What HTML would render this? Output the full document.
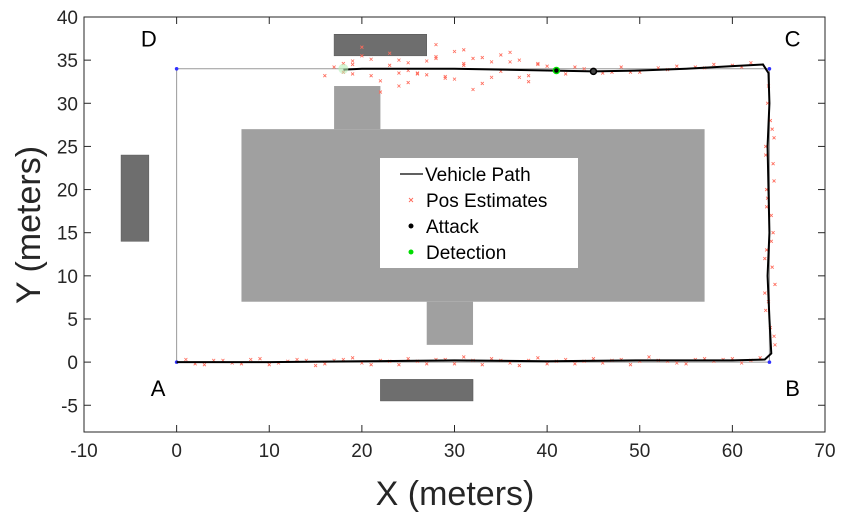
<!DOCTYPE html>
<html><head><meta charset="utf-8"><style>
body{margin:0;background:#fff;font-family:"Liberation Sans",sans-serif}
svg{display:block}
</style></head><body>
<svg id="c" width="848" height="519" xmlns="http://www.w3.org/2000/svg"></svg>
<script>
const xTicks=[-10,0,10,20,30,40,50,60,70];
const yTicks=[-5,0,5,10,15,20,25,30,35,40];
const lightRects=[[7,7,57,27],[17,27,22,32],[27,2,32,7]];
const darkRects=[[17,35.5,27,38],[-6,14,-3,24],[22,-4.5,32,-2]];
const refPath=[[0,0],[64,0],[64,34],[0,34],[0,0]];
const pathX=[0,10,20,30,40,50,60,63.5,64.2,64,63.8,64,63.9,63.8,64,63.9,63.3,60,55,50,45,40,30,20,18];
const pathY=[0,0,0.1,0.2,0.1,0.2,0.2,0.3,1,5,10,15,20,25,30,33.5,34.5,34.3,34,33.8,33.7,33.8,34,34,33.9];
const estX=[1,3,5,7,9,11,13,15,17,19,21,23,25,27,29,31,33,35,37,39,41,43,45,47,49,51,53,55,57,59,61,63,64.5,63.6,64.6,63.5,64.4,63.7,64.5,63.6,64.3,63.8,64.6,63.5,64.2,63.7,64.5,62,60,58,56,54,52,50,48,46,44,42,40,38,36,34,32,30,28,26,24,22,20,18,19,21,23,25,27,29,31,33,35,37,39,17,20,24,28,32,36,22,26,30,34,38,16,19,25,31,37,43,47,
2,4,6,8,10,12,14,16,18,20,22,24,26,28,30,32,34,36,38,40,42,44,46,48,50,52,54,56,58,60,62,64.1,63.9,64.3,63.7,64.2,63.8,64.4,63.6,64.1,63.9,61,57,53,49,45,41,39,35,31,27,23,19,21,25,29,33,18,24,28];
const estY=[0.3,-0.3,0.2,-0.2,0.4,-0.1,0.3,-0.4,0.2,0.5,-0.3,0.1,0.4,-0.2,0.3,0.6,-0.3,0.2,-0.4,0.5,0.1,-0.2,0.4,0.2,-0.3,0.6,0.1,-0.2,0.4,0.3,-0.1,0.5,3,6,9,12,15,18,21,24,27,30,2,8,14,20,26,34.7,34.4,34.5,34.2,34.3,34.1,33.6,34.2,33.5,34,33.4,34.3,33.2,34.8,33,35.2,32.8,35.4,33.4,35,32.6,35.5,33.6,34.5,33.2,35.8,32.4,34.9,33.1,36.2,32.3,35.6,33,34.6,34.2,36.5,32,36.8,31.6,35.9,31.3,33.5,36,34.8,32.5,33.2,34.9,33.8,34.4,35,34.2,33.6,
-0.2,0.2,-0.1,0.3,-0.3,0.1,0.2,-0.2,0.3,-0.1,0.2,-0.3,0.1,0.3,-0.2,0.2,0.4,-0.1,0.2,-0.2,0.3,0.1,-0.1,0.3,0.1,0.2,-0.1,0.3,0.1,0.4,0.2,4,7,11,13,17,19,23,25,28,32,34.2,34.1,33.9,33.6,33.9,33.6,34.5,33.7,34.6,33.3,34.4,33.4,35.1,34.7,32.9,35.3,34.6,33.5,35.2];
const attack=[45,33.7], detect=[41,33.8], detect0=[18,34];
const corners=[["D",-3,37.5],["C",66.5,37.5],["A",-2,-3],["B",66.5,-3]];

const L=84,R=825,T=17,B=432,xmin=-10,xmax=70,ymin=-8.1,ymax=40;
const X=v=>L+(v-xmin)/(xmax-xmin)*(R-L);
const Y=v=>B-(v-ymin)/(ymax-ymin)*(B-T);
const svg=document.getElementById('c');
const NS='http://www.w3.org/2000/svg';
function mk(t,a,p){const e=document.createElementNS(NS,t);for(const k in a)e.setAttribute(k,a[k]);(p||svg).appendChild(e);return e;}

lightRects.forEach(r=>{const e=mk('rect',{x:X(r[0]),y:Y(r[3]),width:X(r[2])-X(r[0]),height:Y(r[1])-Y(r[3]),fill:'#a0a0a0'});

});
darkRects.forEach(r=>{const e=mk('rect',{x:X(r[0]),y:Y(r[3]),width:X(r[2])-X(r[0]),height:Y(r[1])-Y(r[3]),fill:'#6e6e6e',stroke:'#555','stroke-width':0.5});

});
const rp=mk('polyline',{points:refPath.map(p=>X(p[0])+','+Y(p[1])).join(' '),fill:'none',stroke:'#999','stroke-width':1});


refPath.slice(0,4).forEach(p=>{const e=mk('circle',{cx:X(p[0]),cy:Y(p[1]),r:1.8,fill:'#3030ff'});

});
const eg=mk('g',{});


estX.forEach((x,i)=>{const cx=X(x),cy=Y(estY[i]);
const e=mk('path',{d:`M${cx-1.5},${cy-1.5}L${cx+1.5},${cy+1.5}M${cx-1.5},${cy+1.5}L${cx+1.5},${cy-1.5}`,stroke:'#ff6a5a','stroke-width':0.8},eg);

});
const vp=mk('polyline',{points:pathX.map((x,i)=>X(x)+','+Y(pathY[i])).join(' '),fill:'none',stroke:'#000','stroke-width':2});


let e=mk('circle',{cx:X(detect0[0]),cy:Y(detect0[1]),r:5,fill:'#b8f0b8',opacity:0.6});


e=mk('circle',{cx:X(detect[0]),cy:Y(detect[1]),r:3,fill:'#000',stroke:'#0d0','stroke-width':1.5});


e=mk('circle',{cx:X(attack[0]),cy:Y(attack[1]),r:3,fill:'#444',stroke:'#000','stroke-width':1.5});


corners.forEach(c=>{const t=mk('text',{x:X(c[1]),y:Y(c[2])+8,'font-size':22,'text-anchor':'middle',fill:'#000'});t.textContent=c[0];

});
e=mk('rect',{x:L,y:T,width:R-L,height:B-T,fill:'none',stroke:'#262626','stroke-width':1});


xTicks.forEach(v=>{mk('line',{x1:X(v),x2:X(v),y1:B,y2:B-7,stroke:'#262626'});mk('line',{x1:X(v),x2:X(v),y1:T,y2:T+7,stroke:'#262626'});
const t=mk('text',{x:X(v),y:B+25,'font-size':19,'text-anchor':'middle',fill:'#262626'});t.textContent=v;

});
yTicks.forEach(v=>{mk('line',{x1:L,x2:L+7,y1:Y(v),y2:Y(v),stroke:'#262626'});mk('line',{x1:R,x2:R-7,y1:Y(v),y2:Y(v),stroke:'#262626'});
const t=mk('text',{x:L-6,y:Y(v)+7,'font-size':19,'text-anchor':'end',fill:'#262626'});t.textContent=v;

});
let t=mk('text',{x:455,y:505,'font-size':34,'text-anchor':'middle',fill:'#262626'});t.textContent='X (meters)';


t=mk('text',{x:0,y:0,'font-size':34,'text-anchor':'middle',fill:'#262626',transform:'translate(40,225) rotate(-90)'});t.textContent='Y (meters)';


const lg=mk('g',{});


mk('rect',{x:380,y:158,width:198,height:110,fill:'#fff'},lg);
mk('line',{x1:400,x2:423,y1:174,y2:174,stroke:'#000','stroke-width':1.2},lg);
mk('path',{d:'M409,198L413,202M409,202L413,198',stroke:'#ff6a5a','stroke-width':0.9},lg);
mk('circle',{cx:411,cy:226,r:2.5,fill:'#000'},lg);
mk('circle',{cx:411,cy:252,r:2.5,fill:'#0d0'},lg);
['Vehicle Path','Pos Estimates','Attack','Detection'].forEach((s,i)=>{const tx=mk('text',{x:i==0?425:426,y:181+i*26,'font-size':19,fill:'#000'},lg);tx.textContent=s;

});
</script>
</body></html>
